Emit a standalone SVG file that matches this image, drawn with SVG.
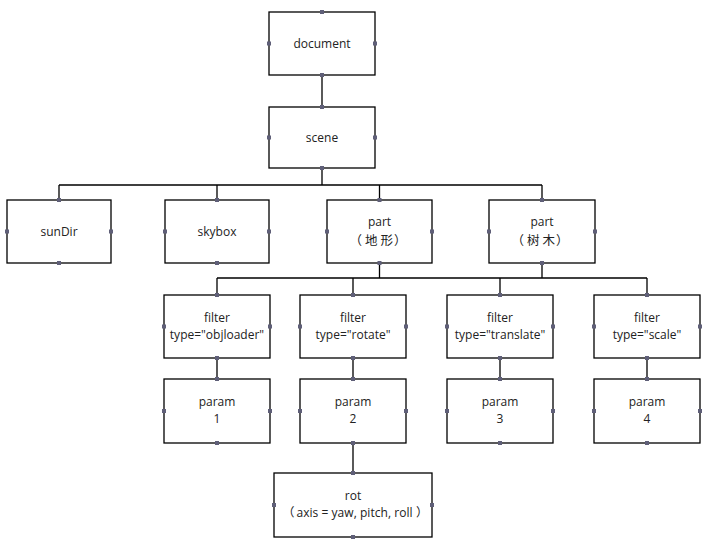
<svg xmlns="http://www.w3.org/2000/svg" width="716" height="549" viewBox="0 0 716 549">
<style>
.box{fill:#fff;stroke:#000;stroke-width:1.3}
.h{fill:#5f5f78}
.t{font-family:"Open Sans","Noto Sans CJK SC",sans-serif;font-size:12px;fill:#222;text-anchor:middle}
.cjk{font-family:"Noto Sans CJK SC",sans-serif;font-size:12.5px;fill:#222;text-anchor:start}
.ts{font-family:"Open Sans","Noto Sans CJK SC",sans-serif;font-size:12px;fill:#222;text-anchor:start}
.c{fill:none;stroke:#000;stroke-width:1.3}
</style>
<defs>
<g id="hd"><rect class="h" x="-2" y="-2" width="4" height="4"/></g>
</defs>
<rect width="716" height="549" fill="#fff"/>
<g id="connectors">
<path class="c" d="M322 75V107"/>
<path class="c" d="M322 168V185M59 185H542M59 185V200M217 185V200M379.5 185V200M542 185V200"/>
<path class="c" d="M379.5 263V278M542 263V278M217 278H647M217 278V295M353 278V295M500 278V295M647 278V295"/>
<path class="c" d="M217 358V379M353 358V379M500 358V379M647 358V379"/>
<path class="c" d="M353 443V473"/>
</g>
<g id="document"><rect class="box" x="269" y="12" width="106" height="63"/><use href="#hd" x="322" y="12"/><use href="#hd" x="322" y="75"/><use href="#hd" x="269" y="43.5"/><use href="#hd" x="375" y="43.5"/><text class="t" x="322" y="47.5">document</text></g>
<g id="scene"><rect class="box" x="269" y="107" width="106" height="61"/><use href="#hd" x="322" y="107"/><use href="#hd" x="322" y="168"/><use href="#hd" x="269" y="137.5"/><use href="#hd" x="375" y="137.5"/><text class="t" x="322" y="142">scene</text></g>
<g id="sunDir"><rect class="box" x="7" y="200" width="104" height="63"/><use href="#hd" x="59" y="200"/><use href="#hd" x="59" y="263"/><use href="#hd" x="7" y="231.5"/><use href="#hd" x="111" y="231.5"/><text class="t" x="59" y="236">sunDir</text></g>
<g id="skybox"><rect class="box" x="165" y="200" width="104" height="63"/><use href="#hd" x="217" y="200"/><use href="#hd" x="217" y="263"/><use href="#hd" x="165" y="231.5"/><use href="#hd" x="269" y="231.5"/><text class="t" x="217" y="236">skybox</text></g>
<g id="part1"><rect class="box" x="327" y="200" width="105" height="63"/><use href="#hd" x="379.5" y="200"/><use href="#hd" x="379.5" y="263"/><use href="#hd" x="327" y="231.5"/><use href="#hd" x="432" y="231.5"/><text class="t" x="379.5" y="226">part</text><text class="cjk" x="349.5 365 380.5 394" y="245">（地形）</text></g>
<g id="part2"><rect class="box" x="489" y="200" width="106" height="63"/><use href="#hd" x="542" y="200"/><use href="#hd" x="542" y="263"/><use href="#hd" x="489" y="231.5"/><use href="#hd" x="595" y="231.5"/><text class="t" x="542" y="226">part</text><text class="cjk" x="511.5 527 542.5 556" y="245">（树木）</text></g>
<g id="filter1"><rect class="box" x="164" y="295" width="106" height="63"/><use href="#hd" x="217" y="295"/><use href="#hd" x="217" y="358"/><use href="#hd" x="164" y="326.5"/><use href="#hd" x="270" y="326.5"/><text class="t" x="217" y="322">filter</text><text class="t" x="217" y="339">type="objloader"</text></g>
<g id="filter2"><rect class="box" x="300" y="295" width="106" height="63"/><use href="#hd" x="353" y="295"/><use href="#hd" x="353" y="358"/><use href="#hd" x="300" y="326.5"/><use href="#hd" x="406" y="326.5"/><text class="t" x="353" y="322">filter</text><text class="t" x="353" y="339">type="rotate"</text></g>
<g id="filter3"><rect class="box" x="447" y="295" width="106" height="63"/><use href="#hd" x="500" y="295"/><use href="#hd" x="500" y="358"/><use href="#hd" x="447" y="326.5"/><use href="#hd" x="553" y="326.5"/><text class="t" x="500" y="322">filter</text><text class="t" x="500" y="339">type="translate"</text></g>
<g id="filter4"><rect class="box" x="594" y="295" width="106" height="63"/><use href="#hd" x="647" y="295"/><use href="#hd" x="647" y="358"/><use href="#hd" x="594" y="326.5"/><use href="#hd" x="700" y="326.5"/><text class="t" x="647" y="322">filter</text><text class="t" x="647" y="339">type="scale"</text></g>
<g id="param1"><rect class="box" x="164" y="379" width="106" height="64"/><use href="#hd" x="217" y="379"/><use href="#hd" x="217" y="443"/><use href="#hd" x="164" y="411"/><use href="#hd" x="270" y="411"/><text class="t" x="217" y="406">param</text><text class="t" x="217" y="423">1</text></g>
<g id="param2"><rect class="box" x="300" y="379" width="106" height="64"/><use href="#hd" x="353" y="379"/><use href="#hd" x="353" y="443"/><use href="#hd" x="300" y="411"/><use href="#hd" x="406" y="411"/><text class="t" x="353" y="406">param</text><text class="t" x="353" y="423">2</text></g>
<g id="param3"><rect class="box" x="447" y="379" width="106" height="64"/><use href="#hd" x="500" y="379"/><use href="#hd" x="500" y="443"/><use href="#hd" x="447" y="411"/><use href="#hd" x="553" y="411"/><text class="t" x="500" y="406">param</text><text class="t" x="500" y="423">3</text></g>
<g id="param4"><rect class="box" x="594" y="379" width="106" height="64"/><use href="#hd" x="647" y="379"/><use href="#hd" x="647" y="443"/><use href="#hd" x="594" y="411"/><use href="#hd" x="700" y="411"/><text class="t" x="647" y="406">param</text><text class="t" x="647" y="423">4</text></g>
<g id="rot"><rect class="box" x="274" y="473" width="158" height="64"/><use href="#hd" x="353" y="473"/><use href="#hd" x="353" y="537"/><use href="#hd" x="274" y="505"/><use href="#hd" x="432" y="505"/><text class="t" x="353" y="500">rot</text><text class="ts" x="282.5" y="517"><tspan class="cjk" style="font-size:12px">（</tspan><tspan x="296.5" textLength="116" lengthAdjust="spacing">axis = yaw, pitch, roll</tspan><tspan class="cjk" style="font-size:12px" x="416">）</tspan></text></g>
</svg>
